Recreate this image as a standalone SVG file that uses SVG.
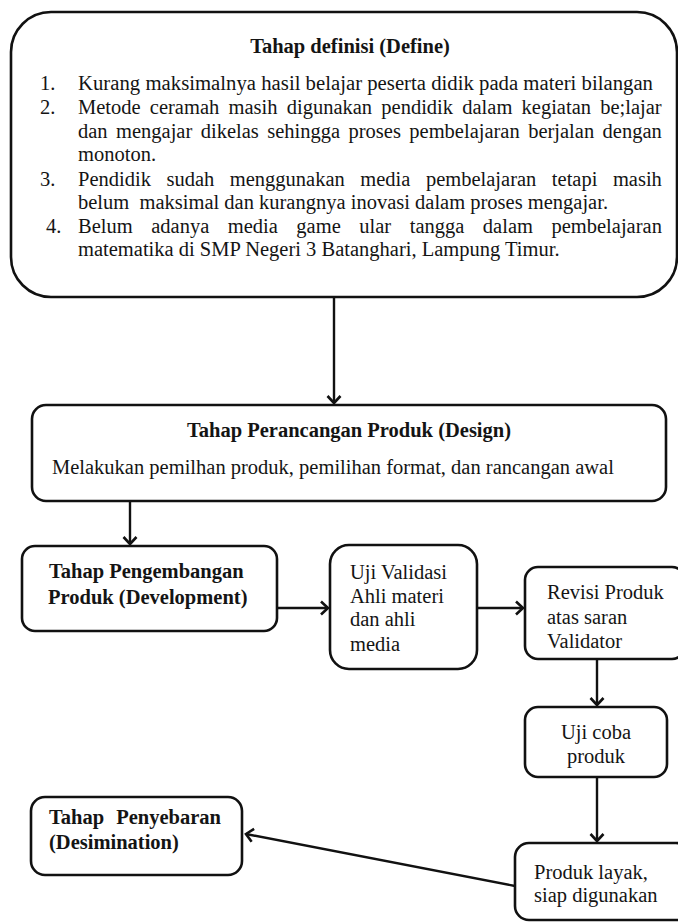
<svg xmlns="http://www.w3.org/2000/svg" width="678" height="923" viewBox="0 0 678 923">
<defs>
<style>
.box{fill:#fff;stroke:#111;stroke-width:2.6}
.t{font-family:"Liberation Serif","Times New Roman",serif;font-size:20.5px;fill:#141414}
.b{font-weight:bold}
.c{stroke:#111;stroke-width:2.4;fill:none}
</style>
<marker id="ah" viewBox="-8 -8 12 16" markerWidth="12" markerHeight="16" refX="0" refY="0" orient="auto" markerUnits="userSpaceOnUse">
<polyline points="-7,-6.5 0,0 -7,6.5" fill="none" stroke="#111" stroke-width="2.6" stroke-linejoin="miter"/>
</marker>
</defs>
<rect width="678" height="923" fill="#fff"/>

<g id="connectors">
<line class="c" x1="334" y1="297" x2="334" y2="403" marker-end="url(#ah)"/>
<line class="c" x1="130" y1="501" x2="130" y2="544" marker-end="url(#ah)"/>
<line class="c" x1="277" y1="608" x2="328" y2="608" marker-end="url(#ah)"/>
<line class="c" x1="477" y1="608" x2="523" y2="608" marker-end="url(#ah)"/>
<line class="c" x1="597" y1="659" x2="597" y2="705" marker-end="url(#ah)"/>
<line class="c" x1="597" y1="777" x2="597" y2="841" marker-end="url(#ah)"/>
<line class="c" x1="515" y1="886" x2="246" y2="834" marker-end="url(#ah)"/>
</g>

<g id="define">
<rect class="box" x="11" y="12" width="666" height="285" rx="40" ry="40"/>
<text class="t b" x="350" y="53" text-anchor="middle">Tahap definisi (Define)</text>
<text class="t" x="40" y="90">1.</text>
<text class="t" x="78" y="90" textLength="575" lengthAdjust="spacingAndGlyphs">Kurang maksimalnya hasil belajar peserta didik pada materi bilangan</text>
<text class="t" x="40" y="114">2.</text>
<text class="t" x="78" y="114" style="word-spacing:4.1px">Metode ceramah masih digunakan pendidik dalam kegiatan be;lajar</text>
<text class="t" x="78" y="138" style="word-spacing:3.3px">dan mengajar dikelas sehingga proses pembelajaran berjalan dengan</text>
<text class="t" x="78" y="161">monoton.</text>
<text class="t" x="40" y="186">3.</text>
<text class="t" x="78" y="186" style="word-spacing:10.4px">Pendidik sudah menggunakan media pembelajaran tetapi masih</text>
<text class="t" x="78" y="209" xml:space="preserve">belum  maksimal dan kurangnya inovasi dalam proses mengajar.</text>
<text class="t" x="46" y="233">4.</text>
<text class="t" x="78" y="233" style="word-spacing:13.4px">Belum adanya media game ular tangga dalam pembelajaran</text>
<text class="t" x="78" y="256">matematika di SMP Negeri 3 Batanghari, Lampung Timur.</text>
</g>

<g id="design">
<rect class="box" x="32" y="405" width="634" height="96" rx="14" ry="14"/>
<text class="t b" x="349" y="437" text-anchor="middle">Tahap Perancangan Produk (Design)</text>
<text class="t" x="52" y="474">Melakukan pemilhan produk, pemilihan format, dan rancangan awal</text>
</g>

<g id="development">
<rect class="box" x="22" y="546" width="255" height="85" rx="13" ry="13"/>
<text class="t b" x="49" y="578">Tahap Pengembangan</text>
<text class="t b" x="48" y="604">Produk (Development)</text>
</g>

<g id="validasi">
<rect class="box" x="330" y="545" width="147" height="124" rx="19" ry="19"/>
<text class="t" x="350" y="579">Uji Validasi</text>
<text class="t" x="350" y="603">Ahli materi</text>
<text class="t" x="350" y="626">dan ahli</text>
<text class="t" x="350" y="651">media</text>
</g>

<g id="revisi">
<rect class="box" x="525" y="567" width="160" height="92" rx="13" ry="13"/>
<text class="t" x="547" y="599">Revisi Produk</text>
<text class="t" x="547" y="624">atas saran</text>
<text class="t" x="547" y="648">Validator</text>
</g>

<g id="ujicoba">
<rect class="box" x="525" y="707" width="142" height="70" rx="13" ry="13"/>
<text class="t" x="596" y="739" text-anchor="middle">Uji coba</text>
<text class="t" x="596" y="763" text-anchor="middle">produk</text>
</g>

<g id="layak">
<rect class="box" x="515" y="843" width="175" height="77" rx="14" ry="14"/>
<text class="t" x="534" y="879">Produk layak,</text>
<text class="t" x="534" y="902">siap digunakan</text>
</g>

<g id="penyebaran">
<rect class="box" x="31" y="797" width="211" height="78" rx="14" ry="14"/>
<text class="t b" x="49" y="824" style="word-spacing:7px">Tahap Penyebaran</text>
<text class="t b" x="49" y="849">(Desimination)</text>
</g>
</svg>
